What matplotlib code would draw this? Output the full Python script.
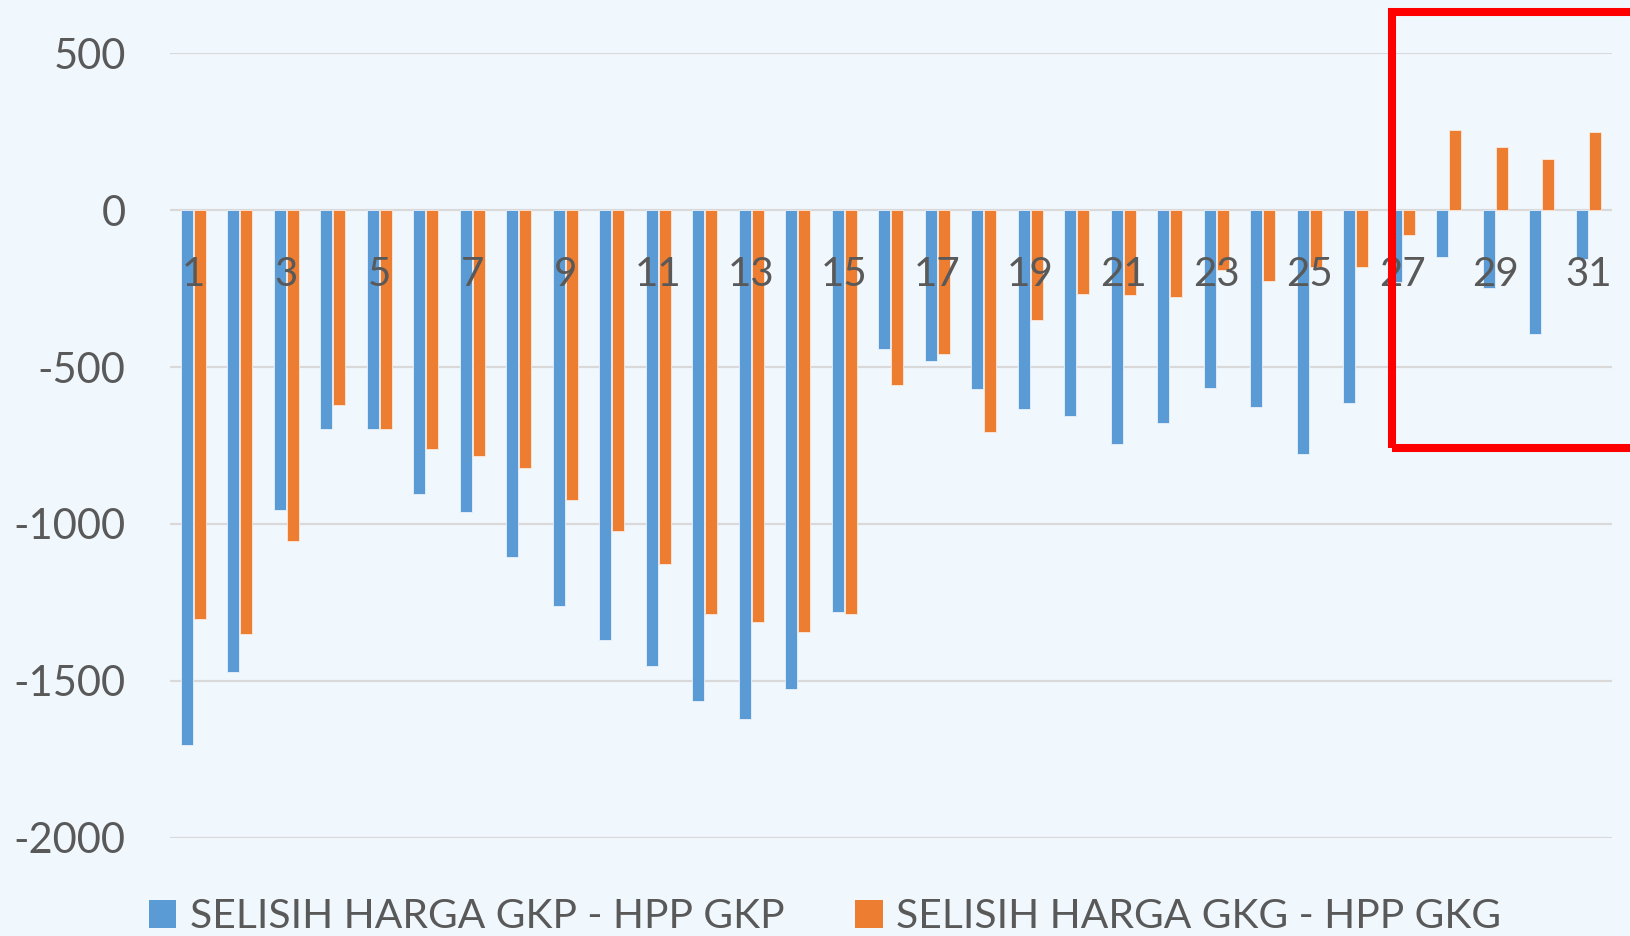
import matplotlib
matplotlib.use("Agg")
import matplotlib.pyplot as plt
from matplotlib.patches import Rectangle, Patch
import numpy as np

plt.rcParams['font.family'] = ['Lato', 'DejaVu Sans']

categories = list(range(1, 32))
gkp = [-1703, -1471, -956, -698, -696, -905, -963, -1106, -1262, -1370,
       -1454, -1564, -1621, -1527, -1282, -441, -480, -569, -634, -655,
       -746, -679, -566, -626, -777, -614, -229, -149, -248, -396, -157]
gkg = [-1304, -1352, -1054, -621, -699, -762, -785, -823, -923, -1022,
       -1129, -1287, -1311, -1345, -1288, -558, -458, -708, -351, -267,
       -270, -278, -190, -227, -180, -180, -80, 254, 202, 164, 248]
series_names = ["SELISIH HARGA GKP - HPP GKP", "SELISIH HARGA GKG - HPP GKG"]
y_ticks = [-2000, -1500, -1000, -500, 0, 500]
y_tick_labels = ["-2000", "-1500", "-1000", "-500", "0", "500"]
x_tick_labels = [str(c) for c in categories[::2]]

bg = '#F1F8FD'
blue = '#5B9BD5'
orange = '#ED7D31'
text_col = '#595959'
grid_col = '#D9D9D9'

fig = plt.figure(figsize=(16.3, 9.36), dpi=100, facecolor=bg)
ax = fig.add_axes([170/1630, 98.3/936, 1441.7/1630, 784.4/936])
ax.set_facecolor(bg)

x = np.array(categories)
w = 0.26
ax.bar(x - 0.14, gkp, width=w, color=blue, edgecolor='#E8F1FA', linewidth=0.6, zorder=2)
ax.bar(x + 0.14, gkg, width=w, color=orange, edgecolor='#FBE9DD', linewidth=0.6, zorder=2)

ax.set_xlim(0.5, 31.5)
ax.set_ylim(-2000, 500)
ax.set_yticks(y_ticks)
ax.set_yticklabels(y_tick_labels)
ax.yaxis.grid(True, color=grid_col, linewidth=1.6)
ax.set_axisbelow(True)

for s in ax.spines.values():
    s.set_visible(False)

ax.set_xticks(categories[::2])
ax.set_xticklabels(x_tick_labels)
ax.spines['bottom'].set_position(('data', 0))
ax.tick_params(axis='x', length=0, pad=33, labelsize=29, labelcolor=text_col)
ax.tick_params(axis='y', length=0, pad=32, labelsize=30, labelcolor=text_col)
ax.xaxis.set_zorder(5)

handles = [Patch(facecolor=blue, edgecolor='none'), Patch(facecolor=orange, edgecolor='none')]
leg = fig.legend(handles, series_names, loc='center', bbox_to_anchor=(825/1630, 1 - 917/936),
                 ncol=2, frameon=False, fontsize=29.3, handlelength=0.68, handleheight=0.68,
                 handletextpad=0.32, columnspacing=1.75, labelcolor=text_col, borderaxespad=0,
                 borderpad=0)

rect = Rectangle((1392/1630, 1 - 448/936), 0.2, (448 - 12)/936, transform=fig.transFigure,
                 fill=False, edgecolor='#FF0000', linewidth=5.8, zorder=10)
fig.patches.append(rect)

fig.savefig('out.png', dpi=100, facecolor=bg)
